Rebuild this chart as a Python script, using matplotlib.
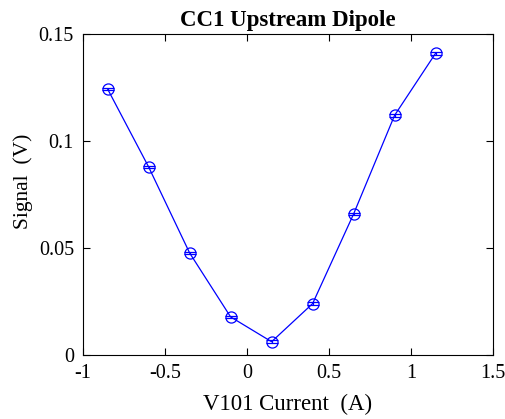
import numpy as np
import matplotlib
matplotlib.use('Agg')
import matplotlib.pyplot as plt

# V101 current (A) and measured signal (V)
current = [-0.85, -0.6, -0.35, -0.1, 0.15, 0.4, 0.65, 0.9, 1.15]
signal = [0.1243, 0.0879, 0.0477, 0.0178, 0.0062, 0.0240, 0.0659, 0.1120, 0.1410]
signal_err = [0.0006, 0.0006, 0.0006, 0.0006, 0.0006, 0.0006, 0.0006, 0.0006, 0.0006]

plt.rcParams['font.family'] = ['Liberation Serif', 'DejaVu Serif']

fig = plt.figure(figsize=(5.06, 4.19), dpi=100)
ax = fig.add_axes([83 / 506, 1 - 355 / 419, 410 / 506, 321 / 419])

ax.errorbar(current, signal, yerr=signal_err, color='#0000ff', linewidth=0.9,
            marker='o', markersize=8, markerfacecolor='none', markeredgewidth=0.9,
            capsize=4, elinewidth=0.9, capthick=0.9)

ax.set_xlim(-1, 1.5)
ax.set_ylim(0, 0.15)
ax.set_xticks([-1, -0.5, 0, 0.5, 1, 1.5])
ax.set_xticklabels(['-1', '-0.5', '0', '0.5', '1', '1.5'])
ax.set_yticks([0, 0.05, 0.1, 0.15])
ax.set_yticklabels(['0', '0.05', '0.1', '0.15'])
ax.tick_params(direction='in', top=True, right=True, labelsize=14.5, length=5, width=0.8, pad=6.5)
for s in ax.spines.values():
    s.set_linewidth(0.8)

ax.set_xlabel('V101 Current  (A)', fontsize=16.5, labelpad=8)
ax.set_ylabel('Signal  (V)', fontsize=15.5)
ax.yaxis.set_label_coords(-0.122, 0.54)
ax.set_title('CC1 Upstream Dipole', fontsize=16.5, fontweight='bold', pad=6)

fig.savefig('out.png', dpi=100)
